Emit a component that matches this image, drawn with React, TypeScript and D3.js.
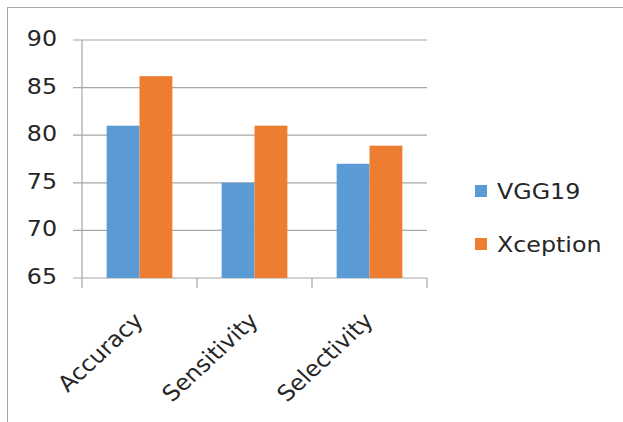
import React from 'react'
import * as d3 from 'd3'

const categories = ['Accuracy', 'Sensitivity', 'Selectivity']
const seriesNames = ['VGG19', 'Xception']
const vgg19 = [81, 75, 77]
const xception = [86.2, 81, 78.9]
const yTicks = [65, 70, 75, 80, 85, 90]
const colors = ['#5b9bd5', '#ed7d31']

const W = 623
const H = 422
const font = '"DejaVu Sans", sans-serif'
const stretch = 1.08

export default function App() {
  const margin = { top: 40, left: 82, right: 196, bottom: 144 }
  const plotBottom = H - margin.bottom
  const x = d3.scaleBand().domain(categories).range([margin.left, W - margin.right])
  const y = d3.scaleLinear().domain([65, 90]).range([plotBottom, margin.top])
  // excel-ish gap width 150%
  const groupW = x.step() * 2 / 3.5
  const inner = d3.scaleBand().domain(seriesNames)
    .range([(x.step() - groupW) / 2, (x.step() + groupW) / 2])
  const values = [vgg19, xception]
  const grid = '#a6a6a6'

  return (
    <svg width={W} height={H} style={{ position: 'absolute', left: 0, top: 0, background: '#fff' }}>
      {/* outer frame */}
      <rect x={7.5} y={7.5} width={W + 20} height={H + 20} fill="none" stroke="#a6a6a6" />
      {/* gridlines + y ticks */}
      {yTicks.map(t => (
        <g key={t}>
          <line x1={margin.left - 9} x2={W - margin.right} y1={y(t)} y2={y(t)} stroke={grid} strokeWidth={1.2} />
          <text transform={`translate(57,${y(t) + 6}) scale(${stretch},1)`} textAnchor="end"
            fontFamily={font} fontSize={22} fill="#262626">{t}</text>
        </g>
      ))}
      {/* y axis */}
      <line x1={margin.left} x2={margin.left} y1={margin.top} y2={plotBottom} stroke={grid} strokeWidth={1.2} />
      {/* bars */}
      {categories.map((c, i) => (
        <g key={c} transform={`translate(${x(c)},0)`}>
          {seriesNames.map((s, j) => (
            <rect key={s} x={inner(s)} width={inner.bandwidth()} y={y(values[j][i])}
              height={plotBottom - y(values[j][i])} fill={colors[j]} />
          ))}
        </g>
      ))}
      {/* x ticks */}
      {d3.range(categories.length + 1).map(i => {
        const px = margin.left + i * x.step()
        return <line key={i} x1={px} x2={px} y1={plotBottom} y2={plotBottom + 10} stroke={grid} strokeWidth={1.2} />
      })}
      {/* x labels */}
      {categories.map(c => (
        <text key={c}
          transform={`translate(${x(c)! + x.bandwidth() / 2 + 5},${plotBottom + 44}) scale(${stretch},1) rotate(-45)`}
          textAnchor="end" fontFamily={font} fontSize={22} fill="#262626">{c}</text>
      ))}
      {/* legend */}
      {seriesNames.map((s, j) => (
        <g key={s} transform={`translate(475,${199 + j * 53})`}>
          <rect x={0} y={-14} width={12} height={12} fill={colors[j]} />
          <text transform={`translate(22,0) scale(${stretch},1)`} fontFamily={font} fontSize={22} fill="#262626">{s}</text>
        </g>
      ))}
    </svg>
  )
}
